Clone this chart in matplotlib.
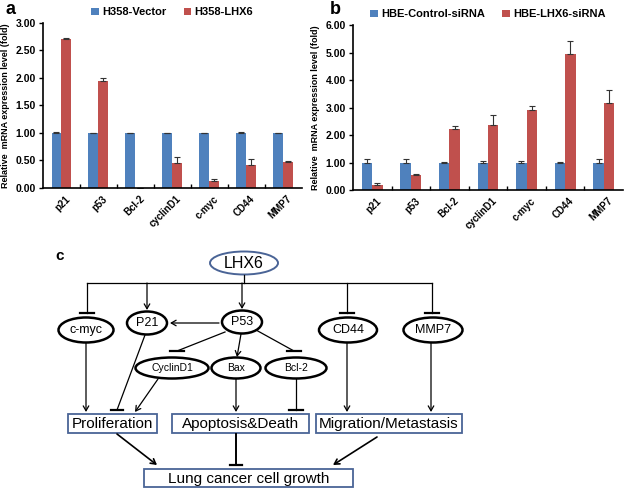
import matplotlib.pyplot as plt
import numpy as np
from matplotlib.patches import Ellipse, Rectangle

plt.rcParams['font.family'] = ['Liberation Sans', 'DejaVu Sans']

genes = ['p21', 'p53', 'Bcl-2', 'cyclinD1', 'c-myc', 'CD44', 'MMP7']

# panel a
vector_mean = [1.00, 1.00, 1.00, 1.00, 1.00, 1.00, 1.00]
vector_err = [0.01, 0.005, 0.005, 0.005, 0.005, 0.015, 0.005]
lhx6_mean = [2.71, 1.95, 0.0, 0.46, 0.13, 0.42, 0.48]
lhx6_err = [0.01, 0.04, 0.0, 0.11, 0.03, 0.10, 0.01]

# panel b
ctrl_mean = [1.00, 1.00, 1.00, 1.00, 1.00, 1.00, 1.00]
ctrl_err = [0.13, 0.13, 0.02, 0.07, 0.05, 0.02, 0.13]
si_mean = [0.20, 0.55, 2.22, 2.38, 2.90, 4.95, 3.17]
si_err = [0.05, 0.05, 0.10, 0.35, 0.15, 0.47, 0.45]

BLUE = '#4F81BD'
RED = '#C0504D'

fig = plt.figure(figsize=(6.25, 4.9), dpi=100)


def bar_panel(rect, m1, e1, m2, e2, ymax, step, lab1, lab2):
    ax = fig.add_axes(rect)
    ax.patch.set_alpha(0)
    x = np.arange(len(genes))
    w = 0.27
    ek = dict(ecolor='#333333', elinewidth=0.8, capsize=2, capthick=0.8)
    ax.bar(x - w / 2, m1, w, color=BLUE, label=lab1)
    ax.errorbar(x - w / 2, m1, yerr=[np.zeros(len(e1)), e1], fmt='none', **ek)
    ax.bar(x + w / 2, m2, w, color=RED, label=lab2)
    ax.errorbar(x + w / 2, m2, yerr=[np.zeros(len(e2)), e2], fmt='none', **ek)
    ax.set_xlim(-0.5, len(genes) - 0.5)
    ax.set_ylim(0, ymax)
    ax.set_yticks(np.arange(0, ymax + 0.001, step))
    ax.set_yticklabels([f'{v:.2f}' for v in np.arange(0, ymax + 0.001, step)],
                       fontsize=7.5, fontweight='bold')
    ax.set_xticks(np.arange(0.5, len(genes) - 0.5, 1))
    ax.set_xticklabels([])
    ax.tick_params(axis='x', direction='in', length=3, width=1)
    ax.tick_params(axis='y', direction='out', length=3, width=1, pad=2)
    for i, g in enumerate(genes):
        ax.text(i + 0.1, -0.035, g, transform=ax.get_xaxis_transform(),
                rotation=45, ha='right', va='top', fontsize=7, fontweight='bold',
                rotation_mode='anchor')
    ax.spines['top'].set_visible(False)
    ax.spines['right'].set_visible(False)
    ax.spines['left'].set_linewidth(1.2)
    ax.spines['bottom'].set_linewidth(1.2)
    ax.set_ylabel('Relative  mRNA expression level (fold)', fontsize=6.5,
                  fontweight='bold', labelpad=4)
    ax.legend(loc='lower center', bbox_to_anchor=(0.5, 1.0), ncol=2, frameon=False,
              handlelength=0.7, handleheight=0.7, handletextpad=0.3,
              columnspacing=1.5, borderaxespad=0.1, prop={'weight': 'bold', 'size': 8})
    return ax


bar_panel([0.0688, 0.6163, 0.414, 0.337], vector_mean, vector_err, lhx6_mean, lhx6_err,
          3.0, 0.5, 'H358-Vector', 'H358-LHX6')
bar_panel([0.5648, 0.6122, 0.432, 0.3367], ctrl_mean, ctrl_err, si_mean, si_err,
          6.0, 1.0, 'HBE-Control-siRNA', 'HBE-LHX6-siRNA')

fig.text(0.008, 0.998, 'a', fontsize=13, fontweight='bold', va='top')
fig.text(0.527, 0.998, 'b', fontsize=13, fontweight='bold', va='top')

# panel c: pathway diagram in pixel coordinates
d = fig.add_axes([0, 0, 1, 1], zorder=-1)
d.set_xlim(0, 625)
d.set_ylim(490, 0)
d.axis('off')
d.text(60, 256, 'c', fontsize=11, fontweight='bold', ha='center', va='center')

LW = 0.9
BOX = '#4a6496'


def oval(cx, cy, w, h, label, fs=9, ec='black', lw=1.8):
    d.add_patch(Ellipse((cx, cy), w, h, fc='white', ec=ec, lw=lw))
    d.text(cx, cy, label, ha='center', va='center', fontsize=fs)


def box(x0, x1, y0, y1, label, fs=11):
    d.add_patch(Rectangle((x0, y0), x1 - x0, y1 - y0, fc='white', ec=BOX, lw=1.3))
    d.text((x0 + x1) / 2, (y0 + y1) / 2 + 0.5, label, ha='center', va='center',
           fontsize=fs)


def arrow(x0, y0, x1, y1, lw=LW):
    d.annotate('', xy=(x1, y1), xytext=(x0, y0),
               arrowprops=dict(arrowstyle='->,head_length=0.35,head_width=0.2',
                               lw=lw, color='black', shrinkA=0, shrinkB=0))


def inhibit(x0, y0, x1, y1, half=7, lw=LW, blw=1.6):
    d.plot([x0, x1], [y0, y1], color='black', lw=lw)
    d.plot([x1 - half, x1 + half], [y1, y1], color='black', lw=blw)


oval(244, 263, 68, 23, 'LHX6', fs=11.5, ec='#4a6496', lw=1.4)
d.plot([244, 244], [275, 283], color='black', lw=LW)
d.plot([87, 432], [283, 283], color='black', lw=LW)
inhibit(87, 283, 87, 313)
arrow(147, 283, 147, 310)
arrow(242, 283, 242, 309)
inhibit(347, 283, 347, 313)
inhibit(432, 283, 432, 313)

oval(86, 330, 55, 25, 'c-myc')
oval(147, 323, 40, 23, 'P21')
oval(242, 322, 40, 23, 'P53')
oval(348, 330, 58, 25, 'CD44')
oval(433, 330, 59, 25, 'MMP7')
arrow(219, 323, 170, 323)

oval(172, 368, 73, 21, 'CyclinD1', fs=7.5)
oval(236, 368, 49, 21, 'Bax', fs=7.5)
oval(296, 368, 61, 21, 'Bcl-2', fs=7.5)
inhibit(225, 332, 177, 351)
arrow(241, 334, 237, 357)
inhibit(256, 330, 294, 351)

arrow(86, 343, 86, 412)
inhibit(145, 335, 117, 410, half=6)
arrow(158, 379, 135, 412)
arrow(236, 379, 236, 412)
inhibit(296, 379, 296, 410)
arrow(347, 343, 347, 412)
arrow(431, 343, 431, 412)

box(68, 157, 414, 433, 'Proliferation')
box(172, 309, 414, 433, 'Apoptosis&Death')
box(316, 462, 414, 433, 'Migration/Metastasis')

arrow(117, 434, 157, 465, lw=1.2)
inhibit(236, 434, 236, 465, half=6, lw=1.4)
arrow(377, 437, 333, 465, lw=1.2)

box(144, 353, 469, 487, 'Lung cancer cell growth')

fig.savefig('out.png', dpi=100)
